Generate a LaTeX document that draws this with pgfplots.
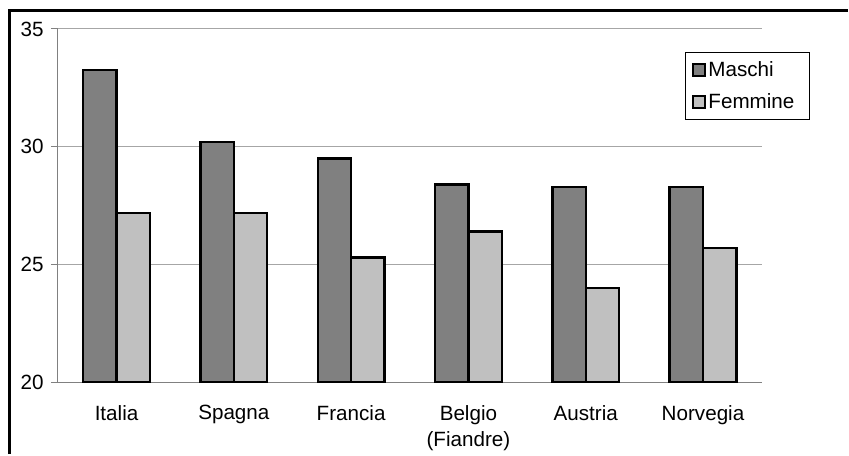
\documentclass[border=0pt]{standalone}
\usepackage{pgfplots}
\pgfplotsset{compat=1.18}
\usepackage{fontspec}
\setmainfont{Liberation Sans}
\definecolor{darkbar}{HTML}{808080}
\definecolor{lightbar}{HTML}{C0C0C0}
\definecolor{gridgray}{HTML}{A6A6A6}
\definecolor{axisgray}{HTML}{808080}
\begin{document}
\begin{tikzpicture}
\path (0,0) rectangle (636.75pt,341.25pt);
\draw[line width=2.25pt, line join=miter] (7.3pt,0pt) -- (7.3pt,333.4pt) -- (636.75pt,333.4pt);
\begin{axis}[
  at={(43.5pt,54pt)}, anchor=south west,
  scale only axis, width=528.75pt, height=265.5pt,
  ybar=0pt, bar width=25.1pt,
  xmin=-0.5, xmax=5.5, ymin=20, ymax=35,
  axis x line*=bottom, axis y line*=left,
  axis line style={-, draw=axisgray, line width=0.75pt},
  xtick={0,...,5},
  xticklabels={Italia,Spagna,Francia,{Belgio\\[3pt](Fiandre)},Austria,Norvegia},
  minor xtick={-0.5,0.5,...,5.5},
  ytick={20,25,30,35},
  tick align=outside,
  major tick length=5.25pt, minor tick length=4.5pt,
  xtick style={draw=none},
  minor tick style={draw=axisgray, line width=0.75pt},
  ytick style={draw=axisgray, line width=0.75pt},
  ymajorgrids, grid style={draw=gridgray, line width=0.75pt},
  tick label style={font=\fontsize{15.5}{17}\selectfont},
  xticklabel style={align=center, yshift=-8.5pt},
  yticklabel style={xshift=-2pt},
  /pgf/number format/assume math mode=true,
  legend style={at={(0.8908,0.935)}, anchor=north west, draw=black, line width=0.75pt,
    font=\fontsize{15.5}{18}\selectfont, inner xsep=5pt, inner ysep=5pt, row sep=7pt,
    /tikz/every even column/.append style={column sep=0pt}},
  legend cell align=left,
  legend image code/.code={\draw[#1, line width=1.6pt] (0pt,-4.4pt) rectangle (8.8pt,4.4pt);},
]
\addplot[fill=darkbar, draw=black, line width=1.8pt] coordinates {(0,33.25) (1,30.2) (2,29.5) (3,28.4) (4,28.3) (5,28.3)};
\addlegendentry{Maschi}
\addplot[fill=lightbar, draw=black, line width=1.8pt] coordinates {(0,27.2) (1,27.2) (2,25.3) (3,26.4) (4,24.0) (5,25.7)};
\addlegendentry{Femmine\hspace*{4pt}}
\end{axis}
\end{tikzpicture}
\end{document}
